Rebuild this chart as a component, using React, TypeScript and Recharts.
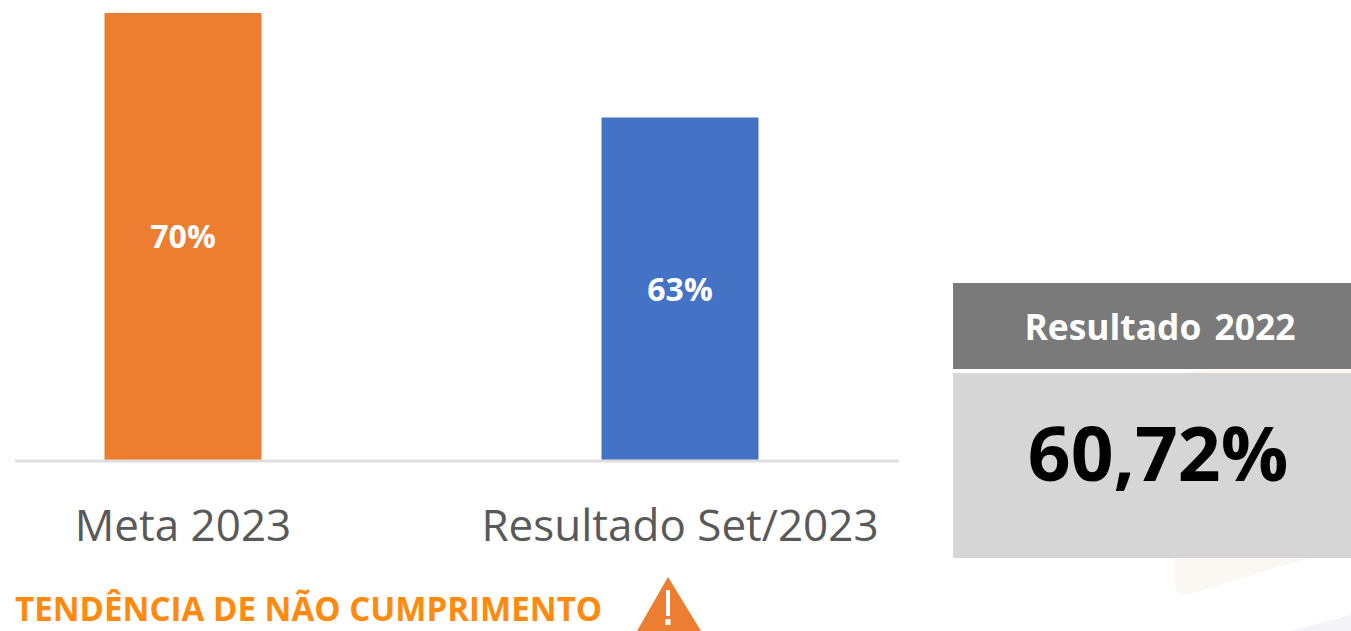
import { BarChart, Bar, XAxis, YAxis, Cell, LabelList } from "recharts"

const categories = ["Meta 2023", "Resultado Set/2023"]
const values = [70, 63]
const barColors = ["#ED7D31", "#4472C4"]
const resultTitle = "Resultado 2022"
const resultValue = "60,72%"
const warningText = "TENDÊNCIA DE NÃO CUMPRIMENTO"

const chartData = categories.map((name, i) => ({ name, value: values[i] }))

export default function App() {
  return (
    <div style={{ position: "absolute", left: 0, top: 0, width: 1351, height: 631, overflow: "hidden", background: "#fff" }}>
      {/* faint background shapes from the slide */}
      <svg width={1351} height={631} style={{ position: "absolute", left: 0, top: 0 }}>
        <path d="M1175 375 L1351 340 L1351 545 L1190 594 Q1175 598 1175 585 Z" fill="#FBF8F3" />
        <path d="M1290 631 L1351 615 L1351 631 Z" fill="#F3F3F8" />
      </svg>

      <div style={{ position: "absolute", left: 0, top: 0 }}>
        <BarChart
          width={1351}
          height={631}
          data={chartData}
          margin={{ top: 13, right: 452, bottom: 140, left: 15 }}
        >
          <XAxis
            dataKey="name"
            scale="point"
            padding={{ left: 168, right: 219 }}
            axisLine={{ stroke: "#DEDEDE", strokeWidth: 3 }}
            tickLine={false}
            interval={0}
            tickMargin={43}
            tick={{ fill: "#595959", fontSize: 44, fontFamily: "Open Sans" }}
          />
          <YAxis hide domain={[40, 70]} allowDataOverflow />
          <Bar dataKey="value" barSize={157} isAnimationActive={false}>
            {chartData.map((d, i) => (
              <Cell key={d.name} fill={barColors[i]} />
            ))}
            <LabelList
              dataKey="value"
              position="center"
              formatter={(v: any) => `${v}%`}
              style={{ fill: "#fff", fontSize: 32, fontWeight: 700, fontFamily: "Open Sans" }}
            />
          </Bar>
        </BarChart>
      </div>

      {/* result box */}
      <div style={{ position: "absolute", left: 953, top: 283, width: 382, paddingLeft: 16, height: 86, background: "#7A7A7A", color: "#fff", fontFamily: "Open Sans", fontWeight: 700, fontSize: 35.4, lineHeight: "86px", textAlign: "center", wordSpacing: 4 }}>
        {resultTitle}
      </div>
      <div style={{ position: "absolute", left: 953, top: 373, width: 386, paddingLeft: 12, height: 185, background: "#D6D6D6", color: "#000", fontFamily: "Open Sans", fontWeight: 700, fontSize: 75, lineHeight: "158px", textAlign: "center" }}>
        {resultValue}
      </div>

      {/* warning line */}
      <div style={{ position: "absolute", left: 15, top: 588, color: "#FF8A0D", fontFamily: "Open Sans", fontWeight: 700, fontSize: 34, lineHeight: "40px", whiteSpace: "nowrap", transform: "scaleX(0.973)", transformOrigin: "0 0" }}>
        {warningText}
      </div>
      <svg width={66} height={56} style={{ position: "absolute", left: 636, top: 575 }}>
        <path d="M32 2 L65 56 L1 56 Z" fill="#ED7D31" />
        <rect x={30} y={15} width={4} height={26} fill="#fff" />
        <rect x={29.5} y={44} width={5} height={6} fill="#fff" />
      </svg>
    </div>
  )
}
